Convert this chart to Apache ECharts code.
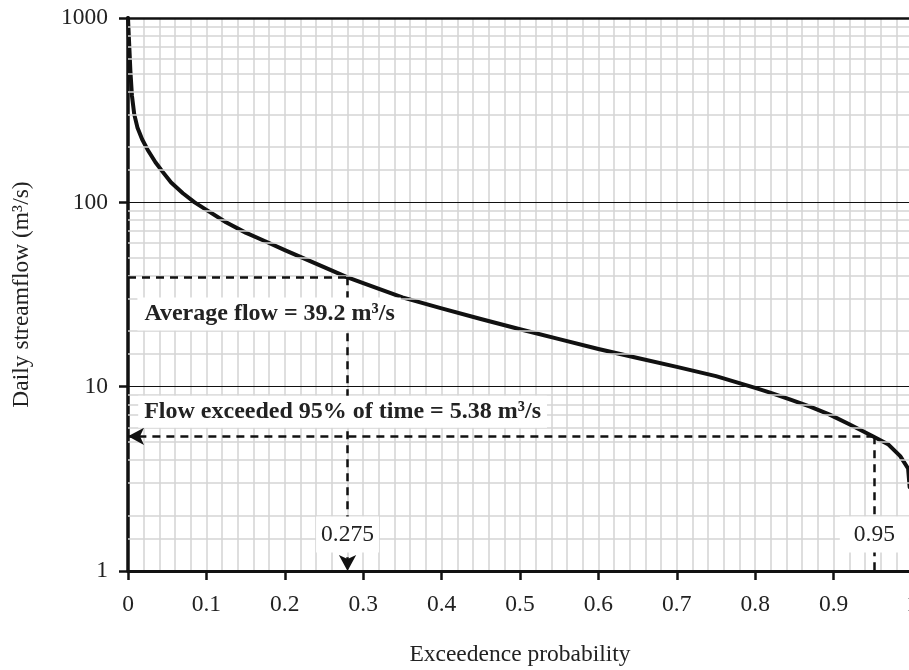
<!DOCTYPE html>
<html><head><meta charset="utf-8">
<script src="https://cdn.jsdelivr.net/npm/echarts@6/dist/echarts.min.js"></script>
<style>html,body{margin:0;padding:0;background:#fff}#c{width:909px;height:670px}</style>
</head><body><div id="c"></div><script>
// Flow-duration curve
const exceedProb = [0, 0.001, 0.002, 0.003, 0.005, 0.008, 0.012, 0.018, 0.025, 0.035, 0.045, 0.055, 0.07, 0.085, 0.1, 0.125, 0.15, 0.175, 0.2, 0.25, 0.28, 0.3, 0.35, 0.4, 0.45, 0.5, 0.55, 0.6, 0.65, 0.7, 0.75, 0.8, 0.82, 0.845, 0.87, 0.895, 0.92, 0.95, 0.97, 0.985, 0.995, 0.997];
const dailyFlow  = [1000, 800, 650, 520, 380, 300, 255, 220, 193, 165, 145, 128, 112, 100, 91, 78, 68.5, 61.5, 55, 44.5, 39.2, 36.5, 30.5, 26.6, 23.3, 20.5, 18.1, 16.0, 14.3, 12.8, 11.4, 9.85, 9.25, 8.5, 7.8, 7.05, 6.25, 5.38, 4.85, 4.2, 3.6, 2.85];

// Annotations
const avgFlow = 39.2, avgProb = 0.28, avgProbText = '0.275';
const q95Flow = 5.38, q95Prob = 0.952, q95ProbText = '0.95';
const avgText = 'Average flow = 39.2 m\u00b3/s';
const q95Text = 'Flow exceeded 95% of time = 5.38 m\u00b3/s';
const avgLabelAt = [0.012, 24.8];
const q95LabelAt = [0.013, 7.3];
const tickLabelRowFlow = 1.58;

// Axes
const yMajor = [10, 100];
const yMinor = [1.5,2,3,4,5,6,7,8,9,15,20,30,40,50,60,70,80,90,150,200,300,400,500,600,700,800,900];
const xTitle = 'Exceedence probability';
const yTitle = 'Daily streamflow (m\u00b3/s)';

const FONT = 'Liberation Serif';
const curve = exceedProb.map((p, i) => [p, dailyFlow[i]]);
const dashed = {color: '#111', width: 2.5, type: [8, 6]};
const chart = echarts.init(document.getElementById('c'), null, {renderer: 'canvas'});
chart.setOption({
  animation: false,
  backgroundColor: '#fff',
  grid: {left: 128, top: 18, width: 784, height: 553, containLabel: false, outerBoundsMode: 'none'},
  xAxis: {
    type: 'value', min: 0, max: 1, interval: 0.1,
    name: xTitle, nameLocation: 'middle', nameGap: 72,
    nameTextStyle: {fontFamily: FONT, fontSize: 23.5, color: '#222'},
    axisLine: {show: true, onZero: false, lineStyle: {color: '#111', width: 3}},
    axisTick: {show: true, length: 9, lineStyle: {color: '#111', width: 2.5}},
    axisLabel: {fontFamily: FONT, fontSize: 23.5, color: '#222', margin: 22,
      formatter: v => String(Math.round(v * 10) / 10)},
    splitLine: {show: true, lineStyle: {color: '#d4d4d4', width: 1.5}},
    minorTick: {show: false, splitNumber: 5},
    minorSplitLine: {show: true, lineStyle: {color: '#d4d4d4', width: 1.5}}
  },
  yAxis: {
    type: 'log', logBase: 10, min: 1, max: 1000,
    name: yTitle, nameLocation: 'middle', nameGap: 94,
    nameTextStyle: {fontFamily: FONT, fontSize: 23.5, color: '#222'},
    axisLine: {show: true, lineStyle: {color: '#111', width: 3.5}},
    axisTick: {show: true, length: 9, lineStyle: {color: '#111', width: 2.5}},
    axisLabel: {fontFamily: FONT, fontSize: 23.5, color: '#222', margin: 20, formatter: v => String(Math.round(v))},
    splitLine: {show: false}
  },
  series: [
    {
      type: 'line', data: [], silent: true, z: 1,
      markLine: {
        silent: true, symbol: ['none', 'none'], label: {show: false}, animation: false,
        data: [
          ...yMinor.map(v => ({yAxis: v, lineStyle: {color: '#d4d4d4', width: 1.5, type: 'solid'}})),
          ...yMajor.map(v => ({yAxis: v, lineStyle: {color: '#111', width: 1.2, type: 'solid'}})),
          {yAxis: 1000, lineStyle: {color: '#111', width: 2.5, type: 'solid'}}
        ]
      }
    },
    {
      type: 'line', data: [], silent: true, z: 3,
      markLine: {
        silent: true, label: {show: false}, animation: false, symbolSize: [13, 16],
        data: [
          [{coord: [0, avgFlow], symbol: 'none', lineStyle: dashed}, {coord: [avgProb, avgFlow], symbol: 'none'}],
          [{coord: [avgProb, avgFlow], symbol: 'none', lineStyle: dashed}, {coord: [avgProb, 1], symbol: 'arrow', symbolSize: [13, 16]}],
          [{coord: [q95Prob, q95Flow], symbol: 'none', lineStyle: dashed}, {coord: [0, q95Flow], symbol: 'arrow', symbolSize: [13, 16]}],
          [{coord: [q95Prob, q95Flow], symbol: 'none', lineStyle: dashed}, {coord: [q95Prob, 1], symbol: 'none'}]
        ],
        itemStyle: {color: '#111'}
      },
      markPoint: {
        silent: true, symbol: 'circle', symbolSize: 1, itemStyle: {color: 'rgba(0,0,0,0)'},
        data: [
          {coord: avgLabelAt, label: {show: true, formatter: avgText, position: 'inside', align: 'left', verticalAlign: 'middle',
            fontFamily: FONT, fontSize: 24, fontWeight: 'bold', color: '#222', backgroundColor: '#fff', padding: [5, 6, 4, 7]}},
          {coord: q95LabelAt, label: {show: true, formatter: q95Text, position: 'inside', align: 'left', verticalAlign: 'middle',
            fontFamily: FONT, fontSize: 24, fontWeight: 'bold', color: '#222', backgroundColor: '#fff', padding: [4, 6, 4, 6]}},
          {coord: [avgProb, tickLabelRowFlow], label: {show: true, formatter: avgProbText, position: 'inside', align: 'center', verticalAlign: 'middle',
            fontFamily: FONT, fontSize: 23.5, color: '#222', backgroundColor: '#fff', padding: [6, 5, 6, 5]}},
          {coord: [q95Prob, tickLabelRowFlow], label: {show: true, formatter: q95ProbText, position: 'inside', align: 'center', verticalAlign: 'middle',
            fontFamily: FONT, fontSize: 23.5, color: '#222', backgroundColor: '#fff', padding: [6, 14, 6, 14]}}
        ]
      }
    },
    {
      type: 'line', data: curve, z: 4, showSymbol: false, symbol: 'none', smooth: false, clip: true,
      lineStyle: {color: '#111', width: 4, join: 'round', cap: 'round'}
    }
  ]
});
</script></body></html>
